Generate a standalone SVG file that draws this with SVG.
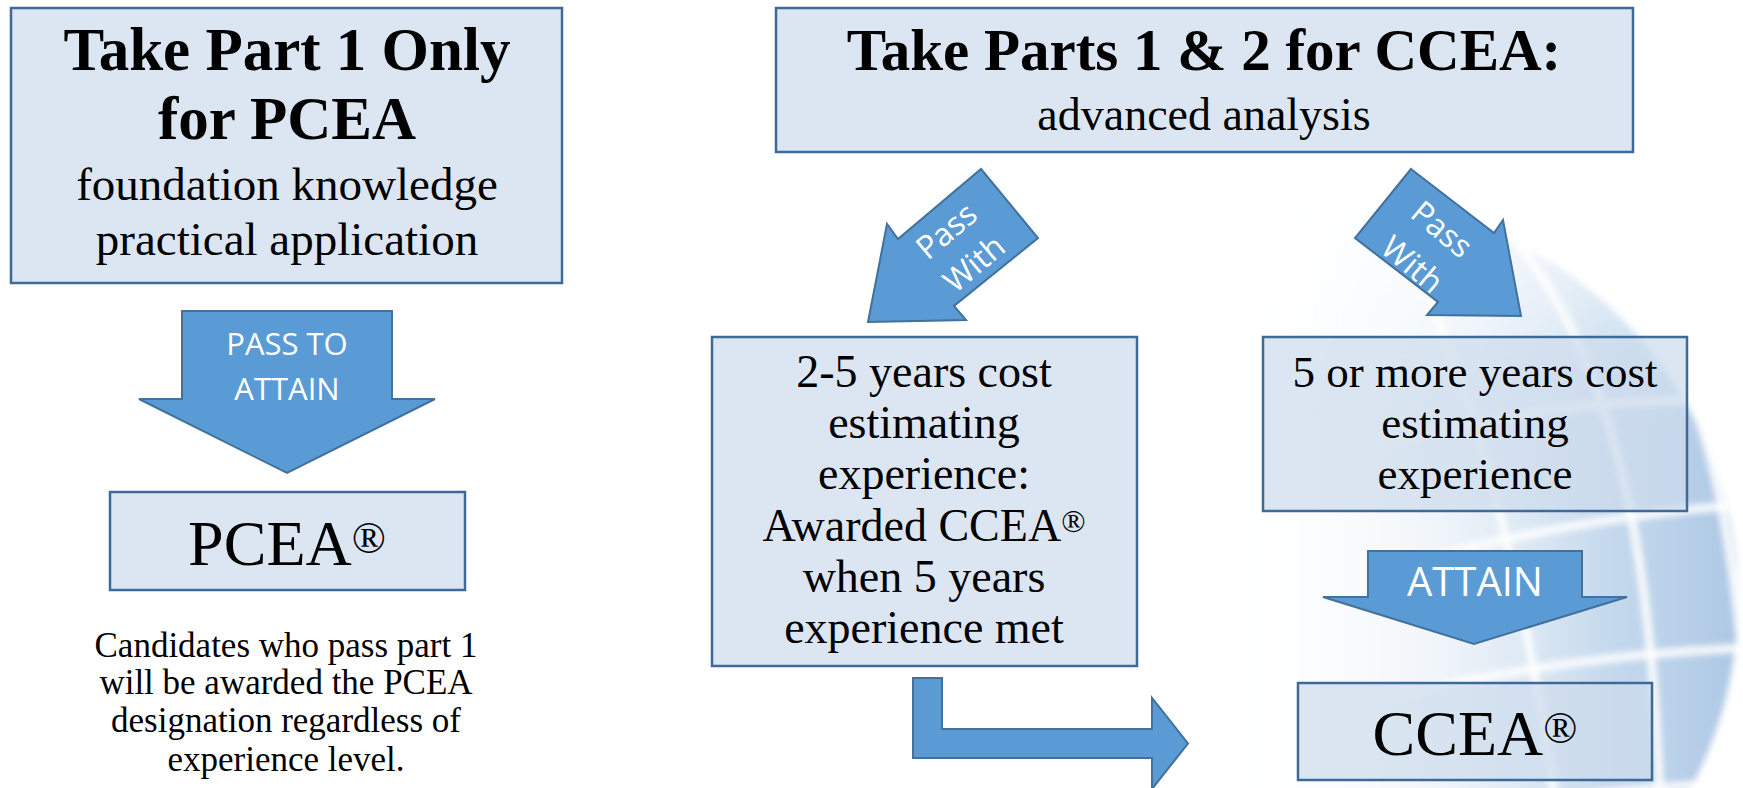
<svg xmlns="http://www.w3.org/2000/svg" width="1743" height="788" viewBox="0 0 1743 788">
<defs>
<style>
.box{fill:#cddbec;fill-opacity:0.7;stroke:#3d6a98;stroke-width:2.5}
.arrow{fill:#5b9bd5;stroke:#41719c;stroke-width:2}
.serif{font-family:"Liberation Serif","Times New Roman",serif;fill:#000;text-anchor:middle}
.bold{font-weight:bold}
.sans{font-family:"Open Sans","Liberation Sans",sans-serif;fill:#fff;text-anchor:middle}
.grid{fill:none;stroke:#fff;stroke-width:8;stroke-opacity:0.9;stroke-linecap:round}
</style>
<linearGradient id="globeFill" gradientUnits="userSpaceOnUse" x1="1150" y1="0" x2="1740" y2="0">
<stop offset="0" stop-color="#ffffff" stop-opacity="0"/>
<stop offset="0.3" stop-color="#e6eef7" stop-opacity="0.5"/>
<stop offset="0.6" stop-color="#d3e2f1" stop-opacity="0.9"/>
<stop offset="0.85" stop-color="#bed4eb" stop-opacity="1"/>
<stop offset="1" stop-color="#adc7e4" stop-opacity="1"/>
</linearGradient>
<linearGradient id="globeFade" gradientUnits="userSpaceOnUse" x1="1200" y1="0" x2="1600" y2="0">
<stop offset="0" stop-color="#fff" stop-opacity="1"/>
<stop offset="0.5" stop-color="#fff" stop-opacity="0.55"/>
<stop offset="1" stop-color="#fff" stop-opacity="0"/>
</linearGradient>
<linearGradient id="globeTop" gradientUnits="userSpaceOnUse" x1="0" y1="200" x2="0" y2="420">
<stop offset="0" stop-color="#fff" stop-opacity="0.75"/>
<stop offset="1" stop-color="#fff" stop-opacity="0"/>
</linearGradient>
<clipPath id="globeClip"><circle cx="1340" cy="600" r="398"/></clipPath>
<filter id="soft" x="-10%" y="-10%" width="120%" height="120%"><feGaussianBlur stdDeviation="3"/></filter>
</defs>

<g id="globe" filter="url(#soft)">
<circle cx="1340" cy="600" r="398" fill="url(#globeFill)"/>
<g clip-path="url(#globeClip)">
<path class="grid" d="M 1380 200 C 1470 360 1520 560 1555 800"/>
<path class="grid" d="M 1490 210 C 1600 330 1650 500 1660 800"/>
<path class="grid" d="M 1630 280 C 1700 380 1732 500 1745 700"/>
<path class="grid" d="M 1360 450 Q 1550 395 1745 400"/>
<path class="grid" d="M 1380 570 Q 1580 515 1745 505"/>
<path class="grid" d="M 1380 700 Q 1560 655 1745 648"/>
<path class="grid" d="M 1380 830 Q 1560 790 1745 782"/>
<rect x="900" y="190" width="843" height="620" fill="url(#globeFade)"/>
<rect x="900" y="190" width="843" height="260" fill="url(#globeTop)"/>
</g>
</g>

<g id="node-part1">
<rect class="box" x="11" y="8" width="551" height="275"/>
<text class="serif bold" x="287" y="70" font-size="61">Take Part 1 Only</text>
<text class="serif bold" x="287" y="139" font-size="61">for PCEA</text>
<text class="serif" x="287" y="200" font-size="47">foundation knowledge</text>
<text class="serif" x="287" y="255" font-size="47">practical application</text>
</g>

<g id="node-parts12">
<rect class="box" x="776" y="8" width="857" height="144"/>
<text class="serif bold" x="1204" y="70" font-size="59">Take Parts 1 &amp; 2 for CCEA:</text>
<text class="serif" x="1204" y="130" font-size="46">advanced analysis</text>
</g>

<g id="node-pcea">
<rect class="box" x="110" y="492" width="355" height="98"/>
<text class="serif" x="287" y="565" font-size="64">PCEA<tspan font-size="45" dy="-12">®</tspan></text>
</g>

<g id="node-caption">
<text class="serif" x="286" y="657" font-size="35">Candidates who pass part 1</text>
<text class="serif" x="286" y="694" font-size="35">will be awarded the PCEA</text>
<text class="serif" x="286" y="732" font-size="35">designation regardless of</text>
<text class="serif" x="286" y="771" font-size="35">experience level.</text>
</g>

<g id="node-2to5">
<rect class="box" x="712" y="337" width="425" height="329"/>
<text class="serif" x="924" y="387" font-size="46">2-5 years cost</text>
<text class="serif" x="924" y="438" font-size="46">estimating</text>
<text class="serif" x="924" y="489" font-size="46">experience:</text>
<text class="serif" x="924" y="541" font-size="46">Awarded CCEA<tspan font-size="32" dy="-9">®</tspan></text>
<text class="serif" x="924" y="592" font-size="46">when 5 years</text>
<text class="serif" x="924" y="643" font-size="46">experience met</text>
</g>

<g id="node-5plus">
<rect class="box" x="1263" y="337" width="424" height="174"/>
<text class="serif" x="1475" y="387" font-size="45">5 or more years cost</text>
<text class="serif" x="1475" y="438" font-size="45">estimating</text>
<text class="serif" x="1475" y="489" font-size="45">experience</text>
</g>

<g id="node-ccea">
<rect class="box" x="1298" y="683" width="354" height="97"/>
<text class="serif" x="1475" y="755" font-size="64">CCEA<tspan font-size="45" dy="-12">®</tspan></text>
</g>

<g id="connectors">
<g id="arrow-pass-to-attain">
<polygon class="arrow" points="182,311 392,311 392,399 435,399 287,473 139,399 182,399"/>
<text class="sans" x="287" y="355" font-size="31">PASS TO</text>
<text class="sans" x="287" y="400" font-size="31">ATTAIN</text>
</g>
<g id="arrow-pass-with-left">
<polygon class="arrow" points="981,169 1038,238 954,306 966,320 868,322 887,224 898,239"/>
<g transform="translate(960,247) rotate(-40)">
<text class="sans" x="0" y="-10" font-size="32">Pass</text>
<text class="sans" x="0" y="33" font-size="32">With</text>
</g>
</g>
<g id="arrow-pass-with-right">
<polygon class="arrow" points="1411,169 1494,233 1503,220 1521,316 1427,315 1438,302 1355,238"/>
<g transform="translate(1427,247) rotate(40)">
<text class="sans" x="0" y="-12" font-size="32">Pass</text>
<text class="sans" x="0" y="34" font-size="32">With</text>
</g>
</g>
<g id="arrow-attain">
<polygon class="arrow" points="1368,551 1582,551 1582,597 1627,597 1474,644 1323,597 1368,597"/>
<text class="sans" x="1475" y="596" font-size="40">ATTAIN</text>
</g>
<g id="arrow-elbow">
<polygon class="arrow" points="913,678 942,678 942,729 1152,729 1152,698 1188,743.5 1152,789 1152,758 913,758"/>
</g>
</g>
</svg>
